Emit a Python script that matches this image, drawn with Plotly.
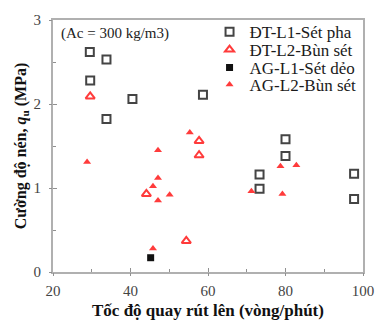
import plotly.graph_objects as go

# ĐT-L1-Sét pha (open squares)
dt1_x = [29.5, 33.8, 29.6, 40.5, 33.8, 58.7, 73.3, 73.3, 80.0, 80.0, 97.7, 97.7]
dt1_y = [2.62, 2.53, 2.28, 2.06, 1.82, 2.11, 1.16, 0.99, 1.58, 1.38, 1.17, 0.87]
# ĐT-L2-Bùn sét (open triangles)
dt2_x = [29.6, 44.1, 54.4, 57.7, 57.7]
dt2_y = [2.09, 0.93, 0.37, 1.56, 1.39]
# AG-L1-Sét dẻo (filled square)
ag1_x = [45.2]
ag1_y = [0.17]
# AG-L2-Bùn sét (filled triangles)
ag2_x = [28.8, 47.1, 47.1, 45.8, 50.1, 47.1, 45.8, 55.3, 71.2, 78.7, 82.8, 79.2]
ag2_y = [1.31, 1.45, 1.12, 1.02, 0.92, 0.85, 0.28, 1.66, 0.96, 1.26, 1.27, 0.93]

names = ["ĐT-L1-Sét pha", "ĐT-L2-Bùn sét", "AG-L1-Sét dẻo", "AG-L2-Bùn sét"]
x_ticks = [20, 40, 60, 80, 100]
y_ticks = [0, 1, 2, 3]

SERIF = "Liberation Serif"
RED = "#ff3b3b"
GREY = "#444444"

fig = go.Figure()
fig.add_trace(go.Scatter(x=dt1_x, y=dt1_y, mode="markers", name=names[0], legend="legend",
                         marker=dict(symbol="square-open", size=8, color=GREY, line=dict(width=2, color=GREY))))
fig.add_trace(go.Scatter(x=dt2_x, y=dt2_y, mode="markers", name=names[1], legend="legend2",
                         marker=dict(symbol="triangle-up-open", size=8, color=RED, line=dict(width=2, color=RED))))
fig.add_trace(go.Scatter(x=ag1_x, y=ag1_y, mode="markers", name=names[2], legend="legend3",
                         marker=dict(symbol="square", size=7, color="#111111")))
fig.add_trace(go.Scatter(x=ag2_x, y=ag2_y, mode="markers", name=names[3], legend="legend4",
                         marker=dict(symbol="triangle-up", size=7, color=RED)))
# empty trace so the overlay axes (outer half of crossing ticks) get drawn
fig.add_trace(go.Scatter(x=[], y=[], xaxis="x2", yaxis="y2", showlegend=False, hoverinfo="skip"))

axis_common = dict(showline=True, linecolor="#b0b0b0", linewidth=2, mirror=True,
                   showgrid=False, zeroline=False, ticks="inside", ticklen=4,
                   tickcolor="#909090", tickwidth=1, automargin=False,
                   tickfont=dict(family=SERIF, size=15, color="#444444"))

def leg(yc):
    return dict(x=0.505, y=yc, xanchor="left", yanchor="middle", bgcolor="rgba(0,0,0,0)",
                font=dict(family=SERIF, size=17, color="#1a1a1a"), itemwidth=30)

fig.update_layout(
    width=380, height=323,
    margin=dict(l=53, r=17, t=20, b=51),
    paper_bgcolor="white", plot_bgcolor="white",
    showlegend=True,
    legend=leg(0.952), legend2=leg(0.881), legend3=leg(0.810), legend4=leg(0.742),
    xaxis=dict(range=[20, 100], tickvals=x_ticks, ticktext=[str(v) for v in x_ticks],
               ticklabelstandoff=4,
               minor=dict(dtick=10, ticks="inside", ticklen=3, tickcolor="#909090"),
               **axis_common),
    yaxis=dict(range=[0, 3], tickvals=y_ticks, ticktext=[str(v) for v in y_ticks],
               ticklabelstandoff=7,
               minor=dict(dtick=0.5, ticks="inside", ticklen=3, tickcolor="#909090"),
               title=dict(text="Cường độ nén, <i>q</i><sub>u</sub> (MPa)", standoff=3,
                          font=dict(family=SERIF, size=16, color="#111111", weight="bold")),
               **axis_common),
    xaxis2=dict(overlaying="x", matches="x", side="bottom", showline=False, showgrid=False,
                zeroline=False, showticklabels=False, ticks="outside", ticklen=3,
                tickcolor="#909090", tickvals=x_ticks, automargin=False),
    yaxis2=dict(overlaying="y", matches="y", side="left", showline=False, showgrid=False,
                zeroline=False, showticklabels=False, ticks="outside", ticklen=3,
                tickcolor="#909090", tickvals=y_ticks, automargin=False),
    annotations=[
        dict(text="(Ac = 300 kg/m3)", x=0.02, y=0.99, xref="paper", yref="paper",
             xanchor="left", yanchor="top", showarrow=False,
             font=dict(family=SERIF, size=15, color="#222222")),
        dict(text="<b>Tốc độ quay rút lên (vòng/phút)</b>", x=0.5, y=-0.152,
             xref="paper", yref="paper", xanchor="center", yanchor="middle", showarrow=False,
             font=dict(family=SERIF, size=17, color="#111111")),
    ],
)

fig.write_html("out.html")
